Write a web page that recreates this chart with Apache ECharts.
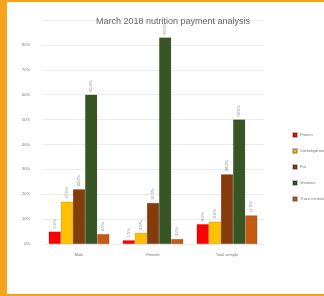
<!DOCTYPE html>
<html><head><meta charset="utf-8">
<script src="https://cdn.jsdelivr.net/npm/echarts@6/dist/echarts.min.js"></script>
<style>
html,body{margin:0;padding:0;background:#fff;}
#frame{position:absolute;left:0;top:0;width:324px;height:296px;box-sizing:border-box;border-left:7px solid #f7a21b;border-top:2px solid #f7a21b;border-bottom:2px solid #f7a21b;}
#c{position:absolute;left:0;top:0;width:324px;height:296px;}
</style></head>
<body><div id="frame"></div><div id="c"></div>
<script>
const title = "March 2018 nutrition payment analysis";
const categories = ["Male", "Female", "Total sample"];
const seriesNames = ["Protein", "Carbohydrate", "Fat", "Vitamins", "Trace minerals"];
const protein = [5.0, 1.5, 8.0];
const carbohydrate = [17.0, 4.5, 9.0];
const fat = [22.0, 16.5, 28.0];
const vitamins = [60.0, 83.0, 50.0];
const traceMinerals = [4.0, 2.0, 11.5];
const yTicks = [0, 10, 20, 30, 40, 50, 60, 70, 80];
const colors = ["#ff0000", "#ffc000", "#843c0c", "#375623", "#c55a11"];
const values = [protein, carbohydrate, fat, vitamins, traceMinerals];

const chart = echarts.init(document.getElementById('c'));
chart.setOption({
  animation: false,
  title: {text: title, left: 168, top: 12, textAlign: 'center',
    textStyle: {fontSize: 9, fontWeight: 'normal', color: '#666', fontFamily: 'Liberation Sans'}},
  legend: {orient: 'vertical', left: 287, top: 127, itemWidth: 4, itemHeight: 4, itemGap: 10,
    icon: 'rect', textStyle: {fontSize: 4, color: '#777', padding: [0,0,0,-2]},
    data: seriesNames},
  grid: {left: 42, right: 60, top: 20, bottom: 52},
  xAxis: {type: 'category', data: categories,
    axisLine: {show: false}, axisTick: {show: false},
    axisLabel: {fontSize: 4, color: '#777', margin: 9}},
  yAxis: {type: 'value', min: 0, max: 90, interval: 10,
    axisLine: {show: false}, axisTick: {show: false},
    splitLine: {lineStyle: {color: '#ececec', width: 1}},
    axisLabel: {fontSize: 4, color: '#777', margin: 12,
      formatter: v => yTicks.indexOf(v) >= 0 ? v + '%' : ''}},
  series: seriesNames.map((n, i) => ({
    name: n, type: 'bar', data: values[i], barGap: '0%', barCategoryGap: '18%',
    itemStyle: {color: colors[i], borderColor: 'rgba(0,0,0,0.25)', borderWidth: 0.5},
    label: {show: true, position: 'top', rotate: 90, align: 'left', verticalAlign: 'middle',
      fontSize: 4, color: '#888', distance: 3, formatter: p => p.value.toFixed(1) + '%'}
  }))
});
</script></body></html>
